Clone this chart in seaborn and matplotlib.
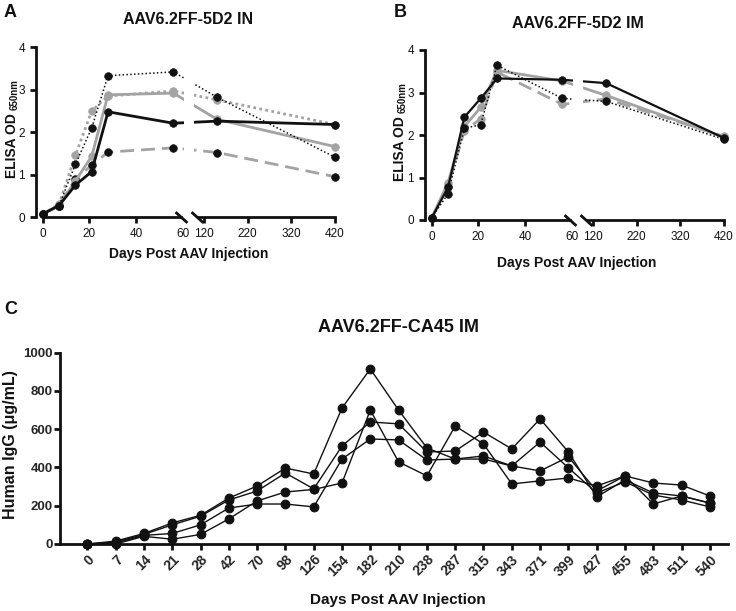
import numpy as np
import pandas as pd
import seaborn as sns
import matplotlib.pyplot as plt

sns.set_theme(style="ticks")
plt.rcParams['font.family'] = ['Liberation Sans', 'DejaVu Sans']

W, H = 736, 611

# ---- panels A and B: ELISA OD650 ----
days_ab = [0, 7, 14, 21, 28, 56, 150, 420]

# A: AAV6.2FF-5D2 IN
in_black_solid = [0.07, 0.27, 0.75, 1.07, 2.48, 2.21, 2.26, 2.18]
in_black_dot = [0.07, 0.27, 1.24, 2.10, 3.33, 3.42, 2.82, 1.41]
in_gray_dash = [0.07, 0.27, 0.90, 1.22, 1.53, 1.63, 1.52, 0.95]
in_gray_solid = [0.07, 0.27, 0.85, 1.43, 2.88, 2.92, 2.30, 1.66]
in_gray_dot = [0.07, 0.30, 1.45, 2.50, 2.85, 2.97, 2.76, 2.18]

# B: AAV6.2FF-5D2 IM
im_black_solid = [0.05, 0.77, 2.42, 2.86, 3.33, 3.30, 3.22, 1.93]
im_black_dot = [0.05, 0.62, 2.16, 2.24, 3.64, 2.86, 2.79, 1.90]
im_gray_solid = [0.05, 0.88, 2.20, 2.65, 3.52, 3.27, 2.93, 1.95]
im_gray_dash = [0.05, 0.80, 2.10, 2.38, 3.48, 2.72, 2.85, 1.97]

# ---- panel C: human IgG ----
days_c = ['0', '7', '14', '21', '28', '42', '70', '98', '126', '154', '182', '210',
          '238', '287', '315', '343', '371', '399', '427', '455', '483', '511', '540']
mouse1 = [0, 15, 55, 110, 150, 240, 303, 397, 366, 711, 915, 700, 502, 444, 460, 408,
          382, 455, 277, 356, 319, 308, 251]
mouse2 = [0, 10, 50, 100, 145, 230, 277, 371, 288, 512, 638, 628, 481, 486, 585, 497,
          654, 481, 246, 335, 267, 251, 214]
mouse3 = [0, 5, 45, 55, 100, 188, 209, 209, 194, 444, 549, 544, 439, 444, 444, 408,
          533, 398, 267, 325, 256, 230, 194]
mouse4 = [0, 0, 40, 25, 50, 131, 225, 272, 285, 319, 700, 429, 356, 617, 523, 314,
          330, 345, 303, 356, 209, 251, 214]

BLACK = '#111111'
GRAY = '#a3a3a3'

# broken x axis: 0-60 days linear, gap, then 120-420 compressed
P120, SLOPE = 69.2, 0.1867
XP = [-1e4, 60, 120, 1e4]
FP = [-1e4, 60, P120, P120 + (1e4 - 120) * SLOPE]


def fwd(d):
    return np.interp(d, XP, FP)


def inv(p):
    return np.interp(p, FP, XP)


def rect(l, t, r, b):
    return [l / W, 1 - b / H, (r - l) / W, (b - t) / H]


def broken_panel(x0, y0, y4, series):
    ppd = 7 / 3  # pixels per day on the left segment
    ppu = (y0 - y4) / 4
    bot = y0 + 0.2 * ppu
    axL = fig.add_axes(rect(x0 - 3 * ppd, y4, x0 + 60.5 * ppd, bot))
    axR = fig.add_axes(rect(x0 + 65 * ppd, y4, x0 + 127.3 * ppd, bot))
    for ax in (axL, axR):
        for vals, lc, ls, lw, mc, z in series:
            sns.lineplot(x=days_ab, y=vals, ax=ax, color=lc, linestyle=ls, linewidth=lw,
                         marker='o', markersize=5.5, markerfacecolor=mc,
                         markeredgecolor=mc, markeredgewidth=0.5, zorder=z)
        ax.set_xscale('function', functions=(fwd, inv))
        ax.set_ylim(-0.2, 4)
        ax.set_yticks([0, 1, 2, 3, 4])
        ax.set_xlabel('')
        ax.set_ylabel('')
        ax.spines['top'].set_visible(False)
        ax.spines['right'].set_visible(False)
        ax.spines['bottom'].set_position(('data', 0))
        for s in ('left', 'bottom'):
            ax.spines[s].set_linewidth(2)
            ax.spines[s].set_color(BLACK)
        ax.tick_params(direction='out', length=4.3, width=2, color=BLACK,
                       labelsize=8.5, pad=3.5, labelcolor=BLACK)
    axL.set_xlim(inv(-3), inv(60.5))
    axL.set_xticks([0, 20, 40, 60])
    axL.xaxis.get_major_ticks()[-1].tick1line.set_visible(False)
    axL.spines['left'].set_bounds(0, 4)
    axL.spines['bottom'].set_bounds(0, inv(59.4))
    axR.set_xlim(inv(65), inv(127.3))
    axR.set_xticks([120, 220, 320, 420])
    axR.spines['left'].set_visible(False)
    axR.tick_params(axis='y', left=False, labelleft=False)
    axR.spines['bottom'].set_bounds(inv(66.4), 420)
    brk = dict(marker=[(-1, 0.9), (1, -0.9)], markersize=8.6, linestyle='none',
               color=BLACK, mec=BLACK, mew=2, clip_on=False)
    axL.plot([inv(59.4)], [0], **brk)
    axR.plot([inv(66.3)], [0], **brk)
    return axL, axR


fig = plt.figure(figsize=(W / 100, H / 100), dpi=100)

# ---------- A ----------
series_in = [
    (in_gray_dash, GRAY, (0, (5, 2.5)), 2, BLACK, 2),
    (in_gray_solid, GRAY, '-', 2, GRAY, 2),
    (in_gray_dot, GRAY, (0, (1, 1.2)), 2, GRAY, 2),
    (in_black_solid, BLACK, '-', 2, BLACK, 3),
    (in_black_dot, BLACK, (0, (1, 1.5)), 1.1, BLACK, 3),
]
broken_panel(42.7, 217, 47.3, series_in)

# ---------- B ----------
series_im = [
    (im_gray_dash, GRAY, (0, (5, 2.5)), 2, GRAY, 2),
    (im_gray_solid, GRAY, '-', 2, GRAY, 2),
    (im_black_dot, BLACK, (0, (1, 1.5)), 1.1, BLACK, 3),
    (im_black_solid, BLACK, '-', 1.6, BLACK, 3),
]
broken_panel(431.7, 220, 50, series_im)

# ---------- C ----------
df = pd.DataFrame({
    'day': days_c * 4,
    'igg': mouse1 + mouse2 + mouse3 + mouse4,
    'mouse': sum([[m] * len(days_c) for m in ['m1', 'm2', 'm3', 'm4']], []),
})
axC = fig.add_axes(rect(60, 352.7, 728, 544 + 25 * 0.1913))
sns.pointplot(data=df, x='day', y='igg', hue='mouse', order=days_c,
              palette=[BLACK] * 4, markers='o', linestyles='-', errorbar=None,
              dodge=False, legend=False, ax=axC, markersize=6.3, linewidth=1)
axC.set_xlim(-0.965, 22.64)
axC.set_ylim(-25, 1000)
axC.set_yticks([0, 200, 400, 600, 800, 1000])
axC.set_xlabel('')
axC.set_ylabel('')
axC.spines['top'].set_visible(False)
axC.spines['right'].set_visible(False)
axC.spines['bottom'].set_position(('data', 0))
axC.spines['left'].set_bounds(0, 1000)
for s in ('left', 'bottom'):
    axC.spines[s].set_linewidth(2)
    axC.spines[s].set_color(BLACK)
axC.tick_params(direction='out', length=4, width=2, color=BLACK)
axC.tick_params(axis='y', labelsize=9.5, pad=1)
axC.tick_params(axis='x', labelsize=10, pad=2)
for lab in axC.get_yticklabels():
    lab.set_fontweight('bold')
for lab in axC.get_xticklabels():
    lab.set_fontweight('bold')
    lab.set_rotation(45)
    lab.set_ha('right')
    lab.set_rotation_mode('anchor')

# ---------- texts ----------
def ftext(x, y, s, **kw):
    return fig.text(x / W, 1 - y / H, s, **kw)


bold = dict(fontweight='bold', color=BLACK)
ftext(4, 4, 'A', fontsize=13, ha='left', va='top', **bold)
ftext(394, 4, 'B', fontsize=13, ha='left', va='top', **bold)
ftext(4, 301, 'C', fontsize=13, ha='left', va='top', **bold)

ftext(188, 20, 'AAV6.2FF-5D2 IN', fontsize=11.5, ha='center', va='center', **bold)
ftext(578, 23, 'AAV6.2FF-5D2 IM', fontsize=11.5, ha='center', va='center', **bold)
ftext(398, 327, 'AAV6.2FF-CA45 IM', fontsize=13, ha='center', va='center', **bold)

ftext(189, 254, 'Days Post AAV Injection', fontsize=10, ha='center', va='center', **bold)
ftext(577, 263, 'Days Post AAV Injection', fontsize=10, ha='center', va='center', **bold)
ftext(398, 600, 'Days Post AAV Injection', fontsize=11, ha='center', va='center', **bold)

# y labels of A and B: "ELISA OD" with subscript "650nm"
for xm, ym in [(12.5, 146), (400, 149)]:
    main = ftext(xm, ym, 'ELISA OD', fontsize=10, rotation=90,
                 ha='center', va='center', **bold)
    fig.axes[0].annotate('650nm', xy=(1.0, 1.0), xycoords=main, xytext=(0.3, 2.5),
                         textcoords='offset points', rotation=90, ha='right',
                         va='bottom', fontsize=7, annotation_clip=False, **bold)

ftext(11, 445, 'Human IgG (μg/mL)', fontsize=11.5, rotation=90, ha='center', va='center', **bold)

fig.savefig('out.png', dpi=100)
